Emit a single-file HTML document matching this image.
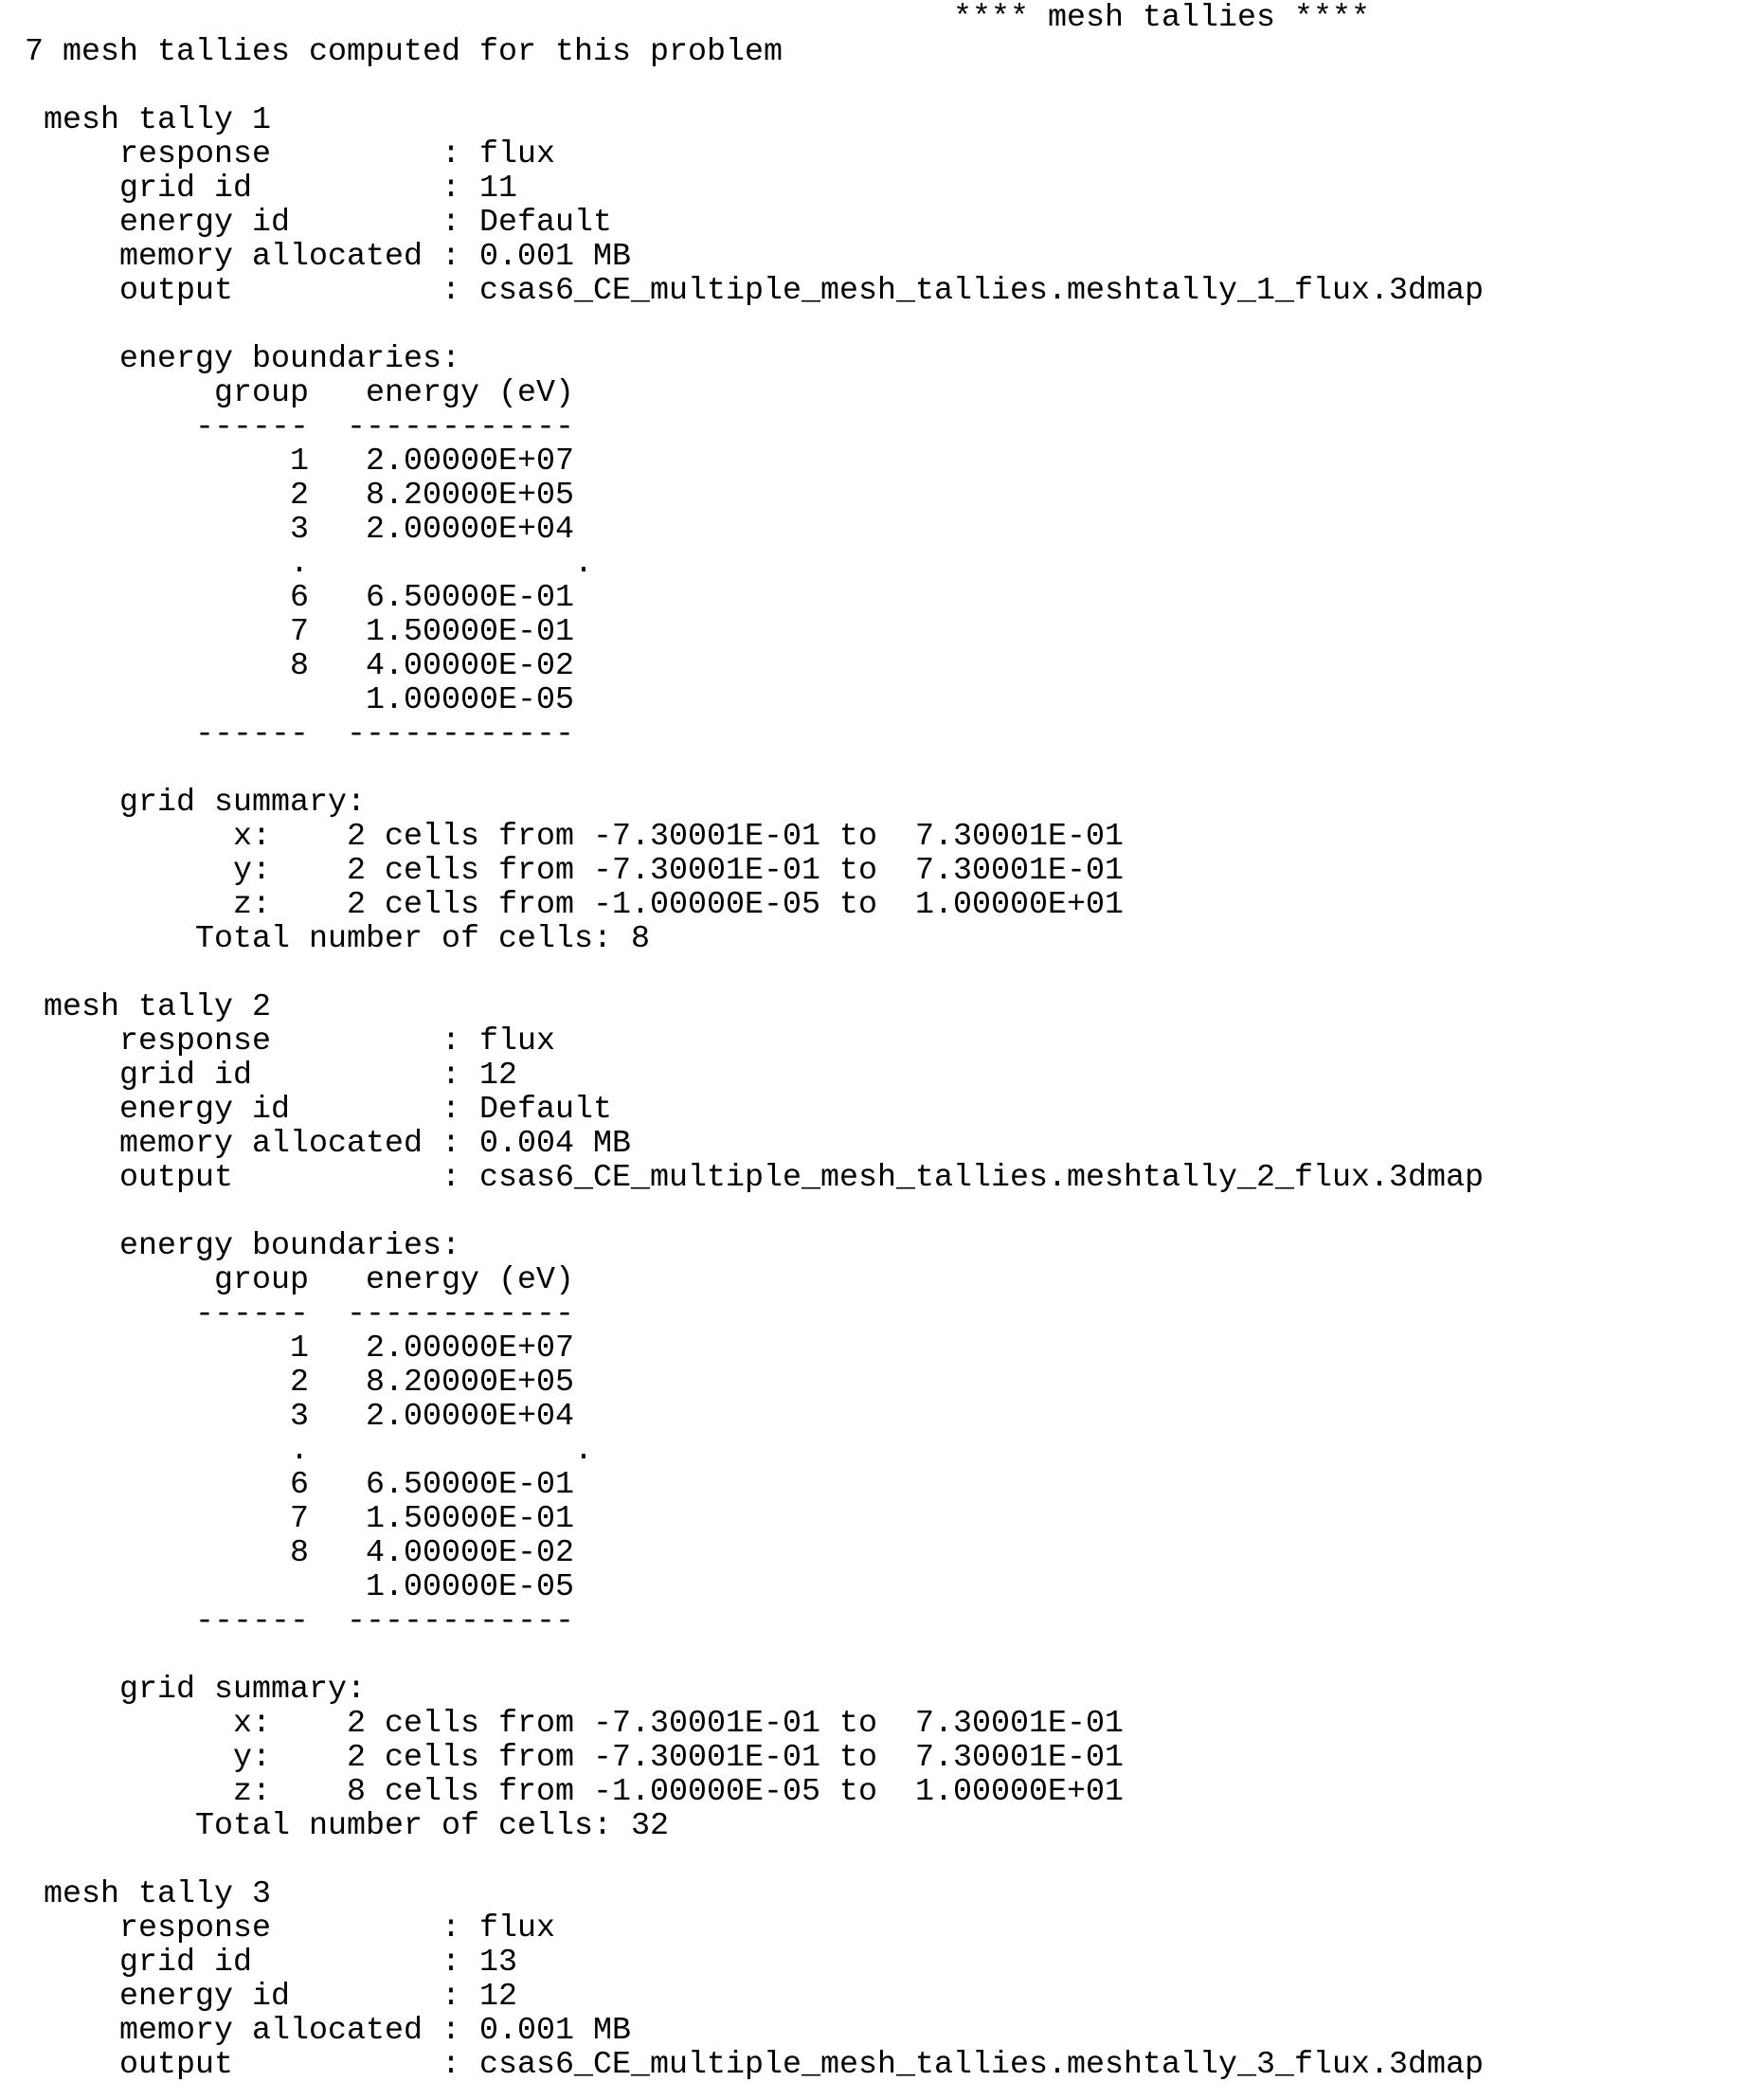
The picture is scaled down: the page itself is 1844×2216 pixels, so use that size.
<!DOCTYPE html>
<html><head><meta charset="utf-8"><style>
html,body{margin:0;padding:0;background:#fff;width:1844px;height:2216px;overflow:hidden}
pre{position:absolute;left:26px;top:0.5px;margin:0;font-family:"Liberation Mono",monospace;font-size:33.33px;line-height:36px;color:#000}
</style></head><body><pre>                                                 **** mesh tallies ****
7 mesh tallies computed for this problem

 mesh tally 1
     response         : flux
     grid id          : 11
     energy id        : Default
     memory allocated : 0.001 MB
     output           : csas6_CE_multiple_mesh_tallies.meshtally_1_flux.3dmap

     energy boundaries:
          group   energy (eV)
         ------  ------------
              1   2.00000E+07
              2   8.20000E+05
              3   2.00000E+04
              .              .
              6   6.50000E-01
              7   1.50000E-01
              8   4.00000E-02
                  1.00000E-05
         ------  ------------

     grid summary:
           x:    2 cells from -7.30001E-01 to  7.30001E-01
           y:    2 cells from -7.30001E-01 to  7.30001E-01
           z:    2 cells from -1.00000E-05 to  1.00000E+01
         Total number of cells: 8

 mesh tally 2
     response         : flux
     grid id          : 12
     energy id        : Default
     memory allocated : 0.004 MB
     output           : csas6_CE_multiple_mesh_tallies.meshtally_2_flux.3dmap

     energy boundaries:
          group   energy (eV)
         ------  ------------
              1   2.00000E+07
              2   8.20000E+05
              3   2.00000E+04
              .              .
              6   6.50000E-01
              7   1.50000E-01
              8   4.00000E-02
                  1.00000E-05
         ------  ------------

     grid summary:
           x:    2 cells from -7.30001E-01 to  7.30001E-01
           y:    2 cells from -7.30001E-01 to  7.30001E-01
           z:    8 cells from -1.00000E-05 to  1.00000E+01
         Total number of cells: 32

 mesh tally 3
     response         : flux
     grid id          : 13
     energy id        : 12
     memory allocated : 0.001 MB
     output           : csas6_CE_multiple_mesh_tallies.meshtally_3_flux.3dmap
</pre></body></html>
